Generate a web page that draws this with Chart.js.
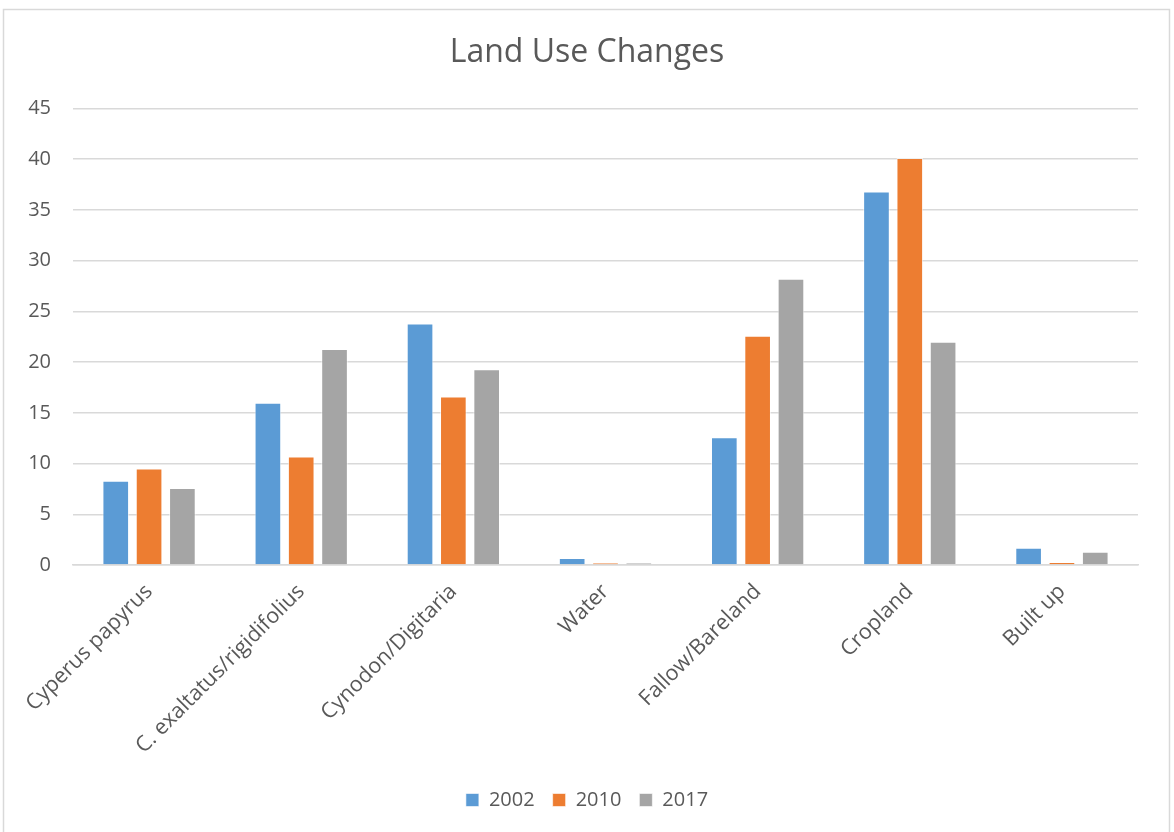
<!DOCTYPE html>
<html>
<head>
<meta charset="utf-8">
<title>Land Use Changes</title>
<script src="https://cdn.jsdelivr.net/npm/chart.js@4/dist/chart.umd.min.js"></script>
<style>
  html, body { margin: 0; padding: 0; background: #fff; }
  #wrap { position: relative; width: 1174px; height: 832px; }
</style>
</head>
<body>
<div id="wrap"><canvas id="landUseChart"></canvas></div>
<script>
// categories and yearly values (% of area)
const categories = [
  "Cyperus papyrus",
  "C. exaltatus/rigidifolius",
  "Cynodon/Digitaria",
  "Water",
  "Fallow/Bareland",
  "Cropland",
  "Built up"
];
const values2002 = [8.3, 16.0, 23.8, 0.7, 12.6, 36.8, 1.7];
const values2010 = [9.5, 10.7, 16.6, 0.2, 22.6, 40.1, 0.3];
const values2017 = [7.6, 21.3, 19.3, 0.2, 28.2, 22.0, 1.3];
const yTicks = [0, 5, 10, 15, 20, 25, 30, 35, 40, 45];

const textColor = "#595959";
const gridColor = "#d9d9d9";
const fontFamily = "'Open Sans', sans-serif";

// thin grey frame round the whole chart
const chartFrame = {
  id: "chartFrame",
  beforeDraw(chart) {
    const ctx = chart.ctx;
    ctx.save();
    ctx.strokeStyle = gridColor;
    ctx.lineWidth = 1.5;
    ctx.strokeRect(3.5, 9.5, chart.width - 8, chart.height + 10);
    ctx.restore();
  }
};

function series(label, data, color) {
  return {
    label: label,
    data: data,
    backgroundColor: color,
    borderColor: "rgba(255,255,255,0.6)",
    borderWidth: 1,
    categoryPercentage: 0.657,
    barPercentage: 0.8
  };
}

new Chart(document.getElementById("landUseChart"), {
  type: "bar",
  data: {
    labels: categories,
    datasets: [
      series("2002", values2002, "#5b9bd5"),
      series("2010", values2010, "#ed7d31"),
      series("2017", values2017, "#a5a5a5")
    ]
  },
  options: {
    responsive: true,
    maintainAspectRatio: false,
    animation: false,
    layout: { padding: { left: 0, right: 0, top: 0, bottom: 12 } },
    plugins: {
      title: {
        display: true,
        text: "Land Use Changes",
        color: textColor,
        font: { family: fontFamily, size: 32, weight: "normal" },
        padding: { top: 34, bottom: 36 }
      },
      legend: {
        position: "bottom",
        labels: {
          color: textColor,
          font: { family: fontFamily, size: 20 },
          boxWidth: 13,
          boxHeight: 13,
          padding: 18
        }
      },
      tooltip: { enabled: false }
    },
    scales: {
      x: {
        grid: { display: false },
        border: { color: gridColor, width: 1.5 },
        ticks: {
          color: textColor,
          font: { family: fontFamily, size: 21.5 },
          minRotation: 45,
          maxRotation: 45,
          padding: 6
        },
        afterFit(scale) { scale.height = 207; }
      },
      y: {
        min: 0,
        max: 45,
        afterBuildTicks(scale) {
          scale.ticks = yTicks.map(v => ({ value: v }));
        },
        grid: { color: gridColor, lineWidth: 1.5, drawTicks: false },
        border: { display: false },
        ticks: {
          color: textColor,
          font: { family: fontFamily, size: 20 },
          padding: 22
        },
        afterFit(scale) { scale.width = 73; }
      },
      // empty right-hand axis that only keeps a margin beside the plot
      yRight: {
        position: "right",
        min: 0,
        max: 45,
        grid: { display: false },
        border: { display: false },
        ticks: { display: false },
        afterFit(scale) { scale.width = 36; }
      }
    }
  },
  plugins: [chartFrame]
});
</script>
</body>
</html>
